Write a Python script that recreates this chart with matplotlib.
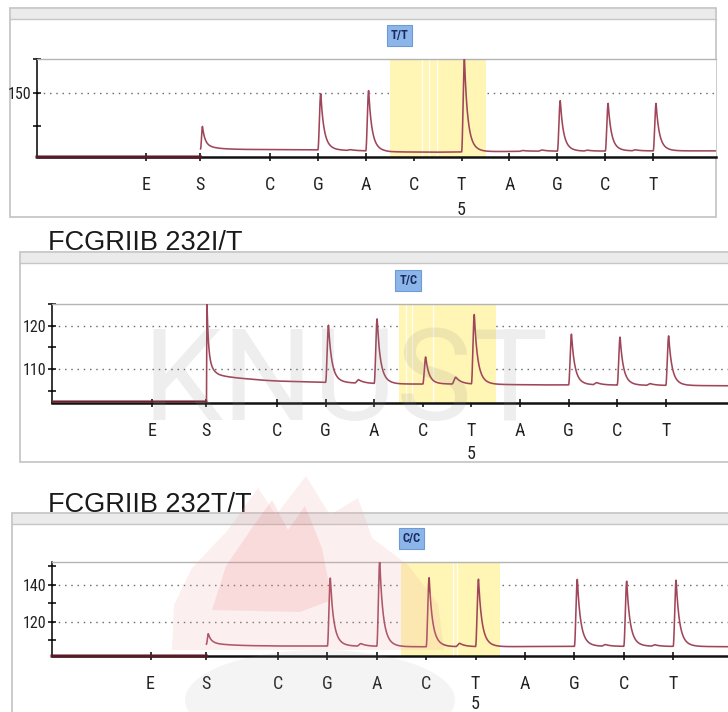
import numpy as np
import matplotlib
matplotlib.use('Agg')
import matplotlib.pyplot as plt
from matplotlib.patches import Rectangle, Polygon, Ellipse
from matplotlib.font_manager import FontProperties
from matplotlib import font_manager as fm

# ---------------- data ----------------
dispensation = ['E', 'S', 'C', 'G', 'A', 'C', 'T', 'A', 'G', 'C', 'T']
disp_x = [-2.58, -1.46, 0, 1, 2, 3, 4, 5, 6, 7, 8]
position_label = '5'
position_x = 4
titles = ['FCGRIIB 232I/T', 'FCGRIIB 232T/T']
genotypes = ['T/T', 'T/C', 'C/C']
highlight = (2.5, 4.5)
watermark = 'KNUST'

# peak tops (signal units) for dispensations C G A C T A G C T (None = no peak)
peaks_tt = [None, 148.5, 153, None, 200, None, 138, 134, 134]
peaks_tc = [None, 120.2, 121.6, 112.8, 122.6, None, 118.1, 117.4, 117.7]
peaks_cc = [None, 143.7, 153, 144, 143, None, 143, 142, 142.6]

# substrate (S) peak tops
s_top = [100, 125.5, 113.7]

# background levels after S (x, level)
base_x_tt = [-1.42, -1.1, -0.5, 0.0, 1.0, 2.0, 2.5, 3.5, 4.5, 5.5, 6.5, 7.5, 9.4]
base_y_tt = [66.5, 66.0, 65.6, 65.5, 65.0, 63.5, 62.0, 61.6, 62.3, 63.0, 63.0, 63.4, 63.5]
base_x_tc = [-1.42, -1.2, -0.8, -0.3, 0.0, 1.0, 2.0, 2.5, 3.5, 4.5, 5.5, 6.5, 7.5, 9.4]
base_y_tc = [109.0, 108.4, 107.9, 107.4, 107.2, 106.9, 106.6, 106.5, 106.5, 106.4, 106.3, 106.3, 106.2, 106.1]
base_x_cc = [-1.44, -1.2, -0.6, 0.0, 1.0, 2.0, 2.5, 3.5, 4.5, 5.5, 6.5, 7.5, 9.4]
base_y_cc = [108.0, 107.6, 107.2, 107.0, 107.0, 106.8, 106.6, 106.6, 106.6, 106.8, 106.8, 106.8, 106.6]
pre_s_level = [54.4, 102.45, 101.6]

# small bumps (x, height above background)
bumps_tt = [(1.6, 1.2), (5.2, 1.2), (5.6, 1.8), (6.55, 1.3), (7.55, 1.5)]
bumps_tc = [(1.6, 0.8), (3.6, 1.6), (6.5, 0.5), (7.6, 0.4)]
bumps_cc = [(1.6, 1.4), (3.6, 1.8), (6.55, 0.9), (7.55, 0.8)]

# y axes
ylims = [(54.4, 200), (102.1, 125.1), (101.6, 152.4)]
yticks = [[100, 150, 200], [105, 110, 115, 120, 125], [110, 120, 130, 140, 150]]
ylabels = [['', '150', ''], ['', '110', '', '120', ''], ['', '120', '', '140', '']]
grids = [[150], [110, 120], [120, 140]]

# ---------------- layout (pixels) ----------------
W, H = 728, 712
axes_px = [(37, 716, 59, 157), (52, 728, 304, 403), (52, 728, 562, 656)]
xlims = [(-4.864, 9.311), (-4.63, 9.28), (-4.575, 9.11)]
five_off = [38, 37, 34.5]
white_lines = [[3.17, 3.32, 3.48], [2.65, 2.78, 3.2], [3.55, 3.62]]

TRACE = '#a0465a'


def pick_narrow(bold=False):
    prefs = ['Liberation Sans Narrow', 'Roboto Condensed', 'Open Sans Condensed',
             'DejaVu Sans Condensed', 'Noto Sans Condensed']
    cands = []
    for f in fm.fontManager.ttflist:
        nm = f.name
        st = str(f.stretch)
        narrow = ('Narrow' in nm or 'Condensed' in nm or 'condensed' in st or 'Cond' in f.fname)
        if not narrow or f.style != 'normal':
            continue
        w = f.weight if isinstance(f.weight, int) else (700 if 'bold' in str(f.weight) else 400)
        if bold and w < 600:
            continue
        if not bold and (w >= 600 or w < 350):
            continue
        cands.append(f)
    for p in prefs:
        for f in cands:
            if f.name == p or (p == 'DejaVu Sans Condensed' and 'DejaVuSansCondensed' in f.fname):
                return FontProperties(fname=f.fname)
    if cands:
        return FontProperties(fname=cands[0].fname)
    return FontProperties(family='DejaVu Sans', weight='bold' if bold else 'normal')


NFP = pick_narrow(False)
NFPB = pick_narrow(True)


def fp(base, size):
    p = base.copy()
    p.set_size(size)
    return p


fig = plt.figure(figsize=(W / 100, H / 100), dpi=100)

bg = fig.add_axes([0, 0, 1, 1], zorder=-5)
bg.set_xlim(0, W)
bg.set_ylim(H, 0)
bg.axis('off')
frames = [(10, 8, 716, 217), (20, 252, 731, 462), (12, 513, 731, 716)]
for (x0, y0, x1, y1) in frames:
    bg.add_patch(Rectangle((x0, y0), x1 - x0, y1 - y0, fc='white', ec='#c2c2c2', lw=1.2))
    bg.add_patch(Rectangle((x0 + 1, y0 + 1), x1 - x0 - 2, 10, fc='#ebebeb', ec='none'))
    bg.plot([x0, x1], [y0 + 11, y0 + 11], color='#c6c6c6', lw=1)
bg.text(48, 250, titles[0], fontsize=19.5, family=['Liberation Sans', 'DejaVu Sans'],
        color='#1a1a1a', va='baseline', ha='left')
bg.text(48, 512, titles[1], fontsize=19.5, family=['Liberation Sans', 'DejaVu Sans'],
        color='#1a1a1a', va='baseline', ha='left')


def peak(x, x0, h, rise=0.06, tau1=0.055, tau2=0.11, frac=0.6):
    t = x - x0
    y = np.zeros_like(x)
    m1 = (t >= 0) & (t < rise)
    y[m1] = h * np.sin(0.5 * np.pi * t[m1] / rise) ** 2
    m2 = t >= rise
    tt = t[m2] - rise
    y[m2] = h * (frac * np.exp(-tt / tau1) + (1 - frac) * np.exp(-tt / tau2))
    return y


panels = [
    (peaks_tt, base_x_tt, base_y_tt, bumps_tt),
    (peaks_tc, base_x_tc, base_y_tc, bumps_tc),
    (peaks_cc, base_x_cc, base_y_cc, bumps_cc),
]
s_params = [dict(rise=0.04, tau1=0.05, tau2=0.2, frac=0.75),
            dict(rise=0.008, tau1=0.03, tau2=0.1, frac=0.75),
            dict(rise=0.04, tau1=0.05, tau2=0.2, frac=0.7)]

for i, (pk, bx, by, bumps) in enumerate(panels):
    l, r, t, b = axes_px[i]
    ax = fig.add_axes([l / W, 1 - b / H, (r - l) / W, (b - t) / H])
    ax.set_facecolor('white')
    ax.set_xlim(*xlims[i])
    ax.set_ylim(*ylims[i])

    s_x = disp_x[1]
    x = np.linspace(xlims[i][0], xlims[i][1], 6000)
    post = x >= s_x + 0.01
    y = np.full_like(x, pre_s_level[i])
    y[post] = np.interp(x[post], bx, by)
    y += peak(x, s_x + 0.01, s_top[i] - by[0], **s_params[i])
    for k, top in enumerate(pk):
        if top is None:
            continue
        px = disp_x[2 + k]
        y += peak(x, px, top - np.interp(px + 0.06, bx, by))
    for (bxp, bh) in bumps:
        y += peak(x, bxp, bh, rise=0.08, tau1=0.1, tau2=0.2, frac=0.8)

    pre = x <= s_x + 0.01
    if i == 1:
        ax.plot(x, y, color=TRACE, lw=1.15, zorder=3)
        ax.plot(x[pre], y[pre], color='#6a2030', lw=1.3, zorder=3)
    else:
        ax.plot(x[~pre], y[~pre], color=TRACE, lw=1.15, zorder=3)
        ax.plot(x[pre], y[pre], color='#5a1a28', lw=2.2, zorder=4, clip_on=False)

    ax.axvspan(*highlight, color='#fff5b4', zorder=1.6, lw=0)
    for wl in white_lines[i]:
        ax.axvline(wl, color='white', lw=0.9, zorder=1.7, alpha=0.9)

    for g in grids[i]:
        ax.axhline(g, color='#707070', lw=1.0, ls=(0, (1.1, 3.4)), zorder=1.5)

    ax.spines['right'].set_visible(False)
    ax.spines['top'].set_color('#b4b4b4')
    ax.spines['top'].set_linewidth(1.0)
    ax.spines['left'].set_color('black')
    ax.spines['left'].set_linewidth(1.1)
    ax.spines['bottom'].set_color('#111111')
    ax.spines['bottom'].set_linewidth(1.8)

    ax.set_yticks(yticks[i])
    ax.set_yticklabels(ylabels[i], fontproperties=fp(NFP, 11.5), color='#222222')
    ax.set_xticks(disp_x)
    ax.set_xticklabels(dispensation, fontproperties=fp(NFP, 13), color='#222222')
    ax.tick_params(axis='y', direction='inout', length=6, width=1.1, pad=1)
    ax.tick_params(axis='x', direction='inout', length=6, width=1.1, pad=10.5)

    ax.annotate(position_label, xy=(position_x, 0), xycoords=('data', 'axes fraction'),
                xytext=(0, -five_off[i]), textcoords='offset points', ha='center',
                va='center', fontproperties=fp(NFP, 13), color='#222222',
                annotation_clip=False)
    ax.annotate(genotypes[i], xy=(2.7, 1), xycoords=('data', 'axes fraction'),
                xytext=(0, 17), textcoords='offset points', ha='center', va='center',
                fontproperties=fp(NFPB, 9), color='#1b2b5e',
                bbox=dict(boxstyle='square,pad=0.3', fc='#8cb5ea', ec='#6e9ad6', lw=0.8),
                annotation_clip=False)

# ---------------- watermark ----------------
ov = fig.add_axes([0, 0, 1, 1], zorder=20)
ov.set_xlim(0, W)
ov.set_ylim(H, 0)
ov.axis('off')
ov.patch.set_alpha(0)

ov.text(346, 420, watermark, fontsize=92, family=['Roboto', 'DejaVu Sans'], weight='normal',
        color='#8a8a8a', alpha=0.14, ha='center', va='baseline')

flame_outer = [(172, 650), (174, 605), (192, 568), (228, 530), (258, 488), (276, 515),
               (306, 476), (330, 515), (358, 498), (372, 538), (408, 565), (438, 604), (444, 650)]
ov.add_patch(Polygon(flame_outer, closed=True, fc='#f2a8a8', ec='none', alpha=0.18))
flame_inner = [(212, 610), (226, 566), (252, 528), (272, 500), (288, 530), (305, 506),
               (322, 548), (332, 600), (300, 612)]
ov.add_patch(Polygon(flame_inner, closed=True, fc='#e65a5a', ec='none', alpha=0.13))
ov.add_patch(Ellipse((320, 700), 270, 100, fc='#9a9a9a', ec='none', alpha=0.1))

fig.savefig('out.png', dpi=100)
